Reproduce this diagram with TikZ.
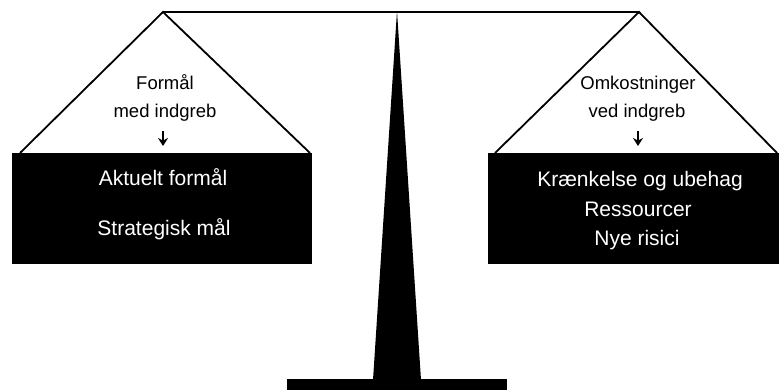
\documentclass[tikz,border=0pt]{standalone}
\usepackage{fontspec}
\setmainfont{Liberation Sans}
\usetikzlibrary{arrows.meta}

\tikzset{
	panline/.style={draw=black, line width=1.8pt, line join=miter},
	weighttext/.style={text=white, anchor=base, inner sep=0pt, font=\fontsize{21}{24}\selectfont},
	pantext/.style={anchor=base, inner sep=0pt, font=\fontsize{18.5}{21}\selectfont},
	downarrow/.style={line width=1.5pt, -{Stealth[length=8pt,width=10pt]}},
}

\begin{document}
\begin{tikzpicture}[x=1pt,y=-1pt]
		\useasboundingbox (0,0) rectangle (779,390);
		
		% beam, pole and foot
		\coordinate (leftTop) at (163,12);
		\coordinate (rightTop) at (639,12);
		\draw [line width=2pt] (leftTop) -- (rightTop);
		\fill (397,11) -- (421,380) -- (373,380) -- cycle;
		\fill (287,379) rectangle (507,390);
		
		% pans
		\draw [panline] (20,153) -- (leftTop) -- (310,153);
		\draw [panline] (495,153) -- (rightTop) -- (777,153);
		\fill (12,153) rectangle (312,264);
		\fill (488,153) rectangle (779,264);
		
		% left side
		\node [pantext] (leftLabelA) at (165,90) {Formål};
		\node [pantext] (leftLabelB) at (165,118) {med indgreb};
		\coordinate (leftArrowTop) at (163,131);
		\coordinate (leftArrowEnd) at (163,146);
		\draw [downarrow] (leftArrowTop) -- (leftArrowEnd);
		\node [weighttext] (leftGoal) at (163,186) {Aktuelt formål};
		\node [weighttext] (leftAim) at (164,236) {Strategisk mål};
		
		% right side
		\node [pantext] (rightLabelA) at (638,90) {Omkostninger};
		\node [pantext] (rightLabelB) at (637,118) {ved indgreb};
		\coordinate (rightArrowTop) at (638,131);
		\coordinate (rightArrowEnd) at (638,146);
		\draw [downarrow] (rightArrowTop) -- (rightArrowEnd);
		\node [weighttext] (rightHarm) at (640,187) {Krænkelse og ubehag};
		\node [weighttext] (rightCost) at (638,217) {Ressourcer};
		\node [weighttext] (rightRisk) at (637,246) {Nye risici};
		
	\end{tikzpicture}
\end{document}
